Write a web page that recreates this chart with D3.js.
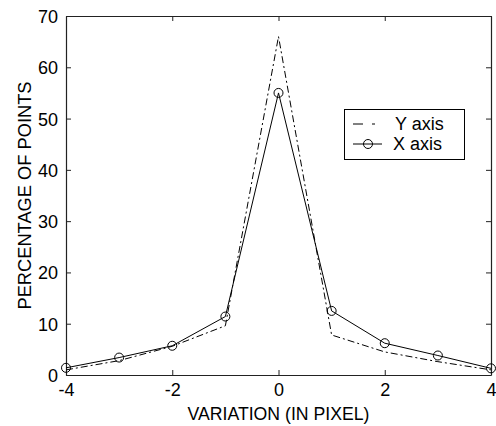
<!DOCTYPE html>
<html>
<head>
<meta charset="utf-8">
<script src="https://cdn.jsdelivr.net/npm/d3@7"></script>
<style>
  html, body { margin: 0; padding: 0; background: #fff; }
  svg { display: block; }
  text { font-family: "Liberation Sans", Arial, sans-serif; fill: #000; }
</style>
</head>
<body>
<svg id="chart" width="496" height="426"></svg>
<script>
// ---- data ----
const variation = [-4, -3, -2, -1, 0, 1, 2, 3, 4];
const yAxisSeries = [1.0, 2.8, 5.6, 9.6, 66.0, 7.8, 4.5, 2.6, 1.0];
const xAxisSeries = [1.4, 3.4, 5.7, 11.4, 55.0, 12.5, 6.2, 3.8, 1.3];
const xTicks = [-4, -2, 0, 2, 4];
const yTicks = [0, 10, 20, 30, 40, 50, 60, 70];
const legendLabels = ["Y axis", "X axis"];

(function () {
// ---- layout ----
const svg = d3.select("#chart");
const L = 66, R = 491, T = 16, B = 375;
const x = d3.scaleLinear().domain([-4, 4]).range([L, R]);
const y = d3.scaleLinear().domain([0, 70]).range([B, T]);
const fs = 18;

// axes
const ax = svg.append("g");
const gBottom = ax.append("g").attr("transform", `translate(0,${B})`)
  .call(d3.axisBottom(x).tickValues(xTicks).tickSizeInner(-5).tickSizeOuter(0).tickPadding(8).tickFormat(d => String(d)));
const gLeft = ax.append("g").attr("transform", `translate(${L},0)`)
  .call(d3.axisLeft(y).tickValues(yTicks).tickSizeInner(-5).tickSizeOuter(0).tickPadding(8));
ax.append("g").attr("transform", `translate(0,${T})`)
  .call(d3.axisTop(x).tickValues(xTicks).tickSizeInner(-5).tickSizeOuter(0).tickFormat(""));
ax.append("g").attr("transform", `translate(${R},0)`)
  .call(d3.axisRight(y).tickValues(yTicks).tickSizeInner(-5).tickSizeOuter(0).tickFormat(""));
ax.selectAll(".domain").attr("stroke", "#222").attr("stroke-width", 1.2);
ax.selectAll(".tick line").attr("stroke", "#222");
ax.selectAll(".tick text").attr("font-size", fs).attr("font-family", "Liberation Sans, Arial, sans-serif").attr("fill", "#111");
gLeft.selectAll(".tick text").attr("dy", "0.36em");
gBottom.selectAll(".tick text").attr("dy", "0.72em");

// axis labels
svg.append("text").attr("x", (L + R) / 2).attr("y", 420).attr("text-anchor", "middle")
  .attr("font-size", fs).attr("fill", "#111")
  .attr("textLength", 182).attr("lengthAdjust", "spacingAndGlyphs")
  .text("VARIATION (IN PIXEL)");
svg.append("text").attr("transform", `translate(30.5,${(T + B) / 2}) rotate(-90)`)
  .attr("text-anchor", "middle").attr("font-size", fs).attr("fill", "#111")
  .attr("textLength", 228).attr("lengthAdjust", "spacingAndGlyphs")
  .text("PERCENTAGE OF POINTS");

// series
const line = d3.line().x((d, i) => x(variation[i])).y(d => y(d));
svg.append("path").datum(yAxisSeries).attr("d", line)
  .attr("fill", "none").attr("stroke", "#000").attr("stroke-width", 1)
  .attr("stroke-dasharray", "7,3,2,3");
svg.append("path").datum(xAxisSeries).attr("d", line)
  .attr("fill", "none").attr("stroke", "#000").attr("stroke-width", 1);
svg.append("g").selectAll("circle").data(xAxisSeries).join("circle")
  .attr("cx", (d, i) => x(variation[i])).attr("cy", d => y(d)).attr("r", 4.5)
  .attr("fill", "none").attr("stroke", "#000").attr("stroke-width", 1);

// legend
const lg = svg.append("g");
lg.append("rect").attr("x", 344.5).attr("y", 109.5).attr("width", 120).attr("height", 50)
  .attr("fill", "#fff").attr("stroke", "#000").attr("stroke-width", 1);
const rows = [124, 144];
lg.append("line").attr("x1", 353).attr("x2", 382).attr("y1", rows[0]).attr("y2", rows[0])
  .attr("stroke", "#000").attr("stroke-dasharray", "10,9,3,20");
lg.append("line").attr("x1", 353).attr("x2", 382).attr("y1", rows[1]).attr("y2", rows[1])
  .attr("stroke", "#000");
lg.append("circle").attr("cx", 368).attr("cy", rows[1]).attr("r", 4.5)
  .attr("fill", "none").attr("stroke", "#000");
lg.selectAll("text.lab").data(legendLabels).join("text").attr("class", "lab")
  .attr("x", (d, i) => i === 0 ? 395 : 393).attr("y", (d, i) => rows[i]).attr("dy", "0.36em")
  .attr("font-size", fs).attr("fill", "#111").text(d => d);
})();
</script>
</body>
</html>
